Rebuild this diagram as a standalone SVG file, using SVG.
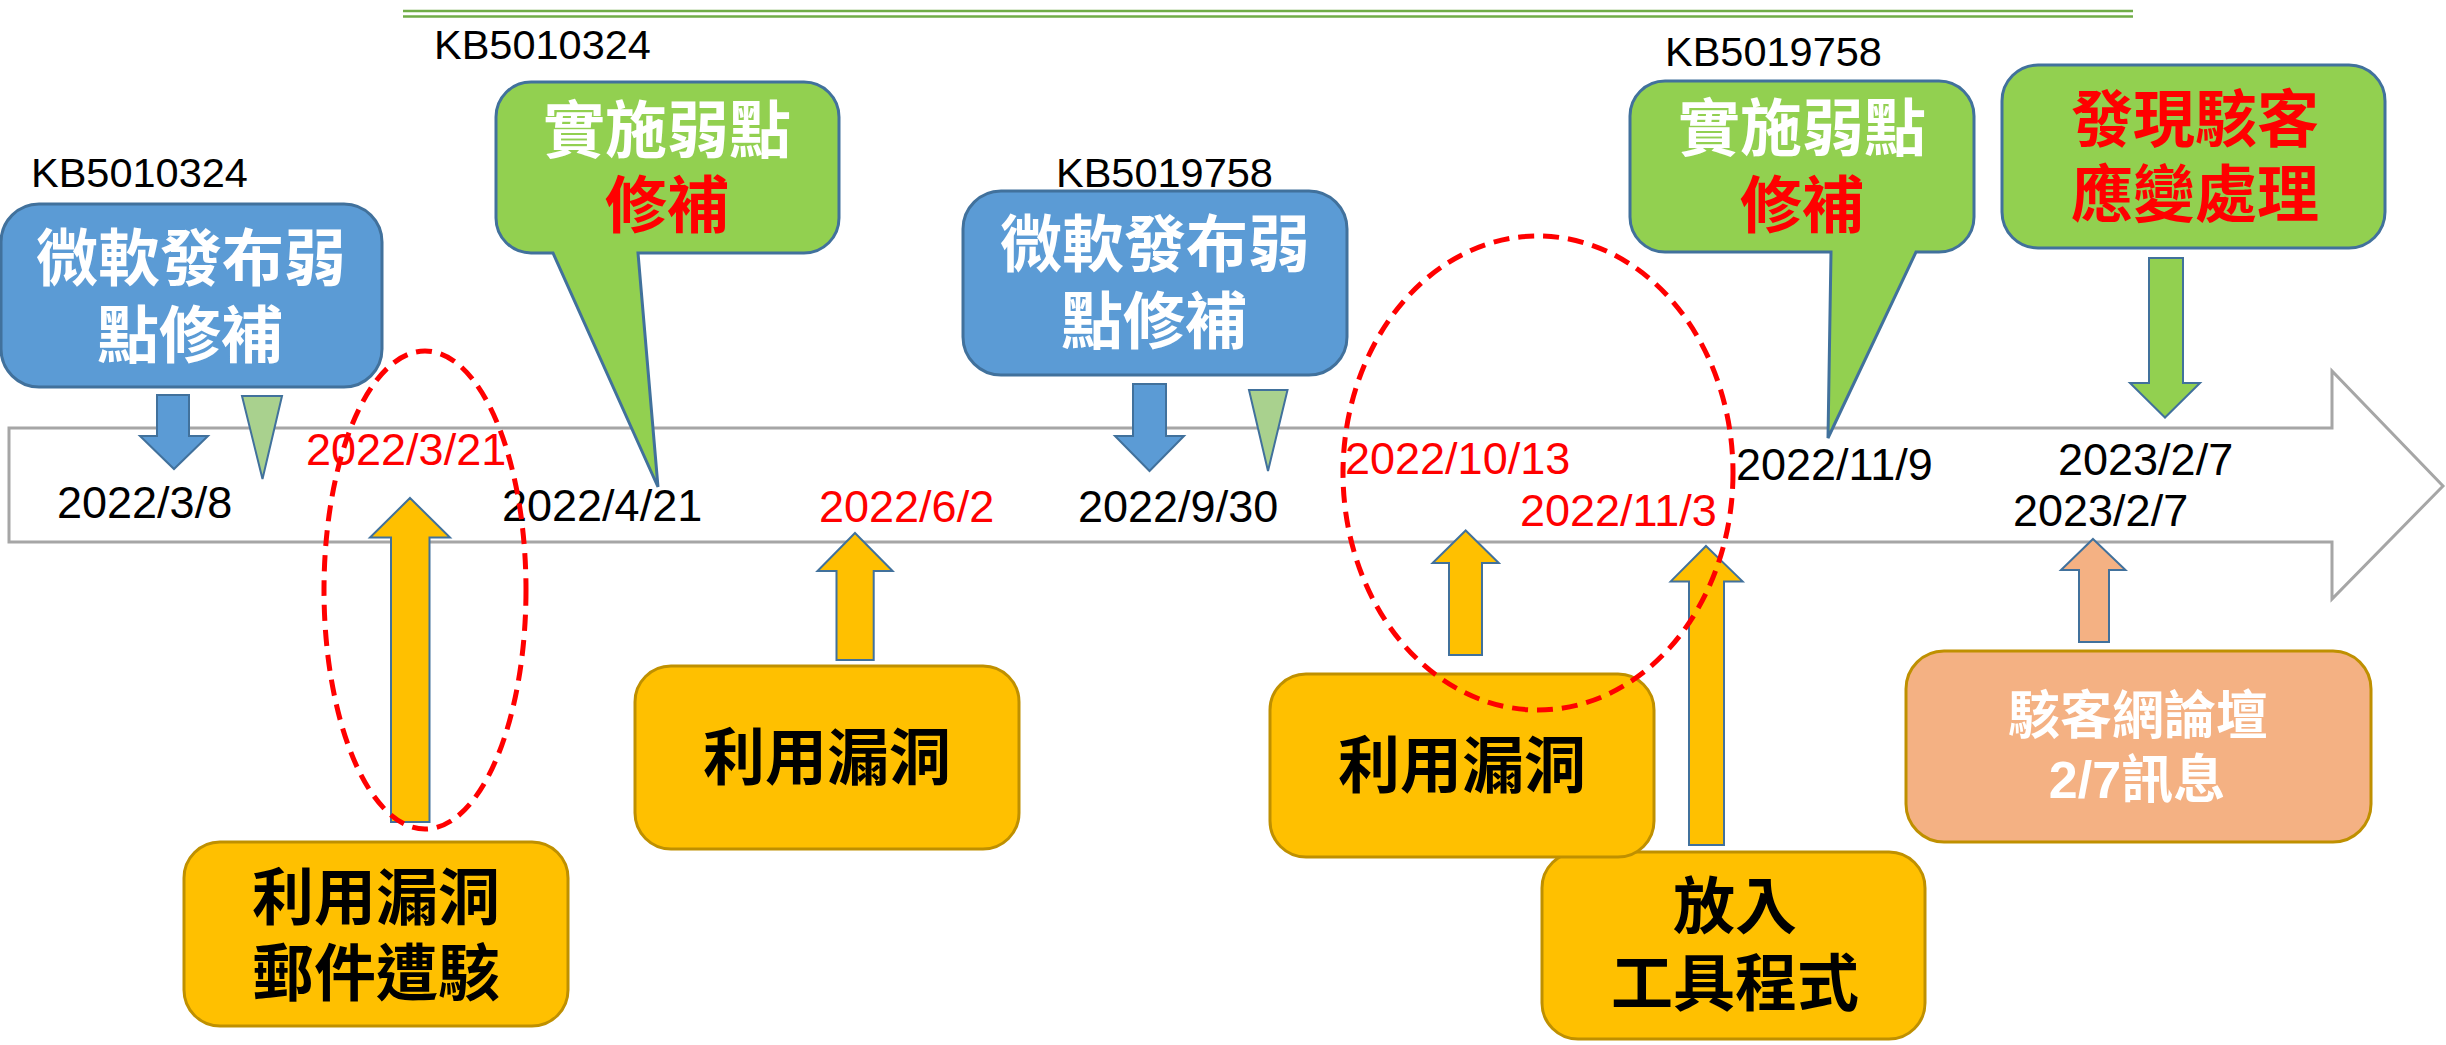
<svg xmlns="http://www.w3.org/2000/svg" width="2446" height="1045" viewBox="0 0 2446 1045">
<style>
.lat{font-family:"Liberation Sans",Arial,sans-serif;font-size:45px;fill:#000}
.kb{font-family:"Liberation Sans",Arial,sans-serif;font-size:41.5px;fill:#000}
.red{fill:#FF0000}
.cjk{font-family:"Liberation Sans","Noto Sans CJK TC","Noto Sans CJK SC",sans-serif;font-weight:bold;font-size:62px;text-anchor:middle}
.w{fill:#FFFFFF}
.k{fill:#000000}
.r{fill:#FF0000}
.blue{fill:#5B9BD5;stroke:#41719C;stroke-width:3}
.green{fill:#92D050;stroke:#41719C;stroke-width:3}
.yel{fill:#FFC000;stroke:#BF9000;stroke-width:3}
.org{fill:#F4B183;stroke:#BF9000;stroke-width:3}
.ab{fill:#5B9BD5;stroke:#41719C;stroke-width:2}
.ay{fill:#FFC000;stroke:#41719C;stroke-width:2}
.ag{fill:#92D050;stroke:#41719C;stroke-width:2}
.alg{fill:#A9D18E;stroke:#41719C;stroke-width:2}
.ao{fill:#F4B183;stroke:#41719C;stroke-width:2}
.ell{fill:none;stroke:#FF0000;stroke-width:5;stroke-dasharray:16 9}
</style>

<g id="timeline">
<polygon points="9,428 2332,428 2332,371 2443,486 2332,599 2332,542 9,542" fill="#FFFFFF" stroke="#A6A6A6" stroke-width="3"/>
</g>

<g id="top-rule">
<line x1="403" y1="11" x2="2133" y2="11" stroke="#70AD47" stroke-width="2.5"/>
<line x1="403" y1="16.5" x2="2133" y2="16.5" stroke="#70AD47" stroke-width="2.5"/>
</g>

<g id="kb-labels">
<text class="kb" x="31" y="187">KB5010324</text>
<text class="kb" x="434" y="59">KB5010324</text>
<text class="kb" x="1056" y="187">KB5019758</text>
<text class="kb" x="1665" y="66">KB5019758</text>
</g>

<g id="release1">
<rect class="blue" x="1" y="204" width="381" height="183" rx="38" ry="38"/>
<text class="cjk w"><tspan x="191" y="281">微軟發布弱</tspan><tspan x="190" y="358">點修補</tspan></text>
</g>

<g id="patch1">
<path class="green" d="M531,82 H804 A35,35 0 0 1 839,117 V218 A35,35 0 0 1 804,253 H638 L658,487 L553,253 H531 A35,35 0 0 1 496,218 V117 A35,35 0 0 1 531,82 Z"/>
<text class="cjk w"><tspan x="667" y="153">實施弱點</tspan><tspan class="r" x="667" y="228">修補</tspan></text>
</g>

<g id="release2">
<rect class="blue" x="963" y="191" width="384" height="184" rx="38" ry="38"/>
<text class="cjk w"><tspan x="1155" y="267">微軟發布弱</tspan><tspan x="1154" y="344">點修補</tspan></text>
</g>

<g id="patch2">
<path class="green" d="M1665,81 H1939 A35,35 0 0 1 1974,116 V217 A35,35 0 0 1 1939,252 H1916 L1828,438 L1831,252 H1665 A35,35 0 0 1 1630,217 V116 A35,35 0 0 1 1665,81 Z"/>
<text class="cjk w"><tspan x="1802" y="150.5">實施弱點</tspan><tspan class="r" x="1802" y="227.5">修補</tspan></text>
</g>

<g id="response">
<rect class="green" x="2002" y="65" width="383" height="183" rx="36" ry="36"/>
<text class="cjk r"><tspan x="2195" y="141.5">發現駭客</tspan><tspan x="2195" y="217">應變處理</tspan></text>
</g>

<g id="exploit1">
<rect class="yel" x="184" y="842" width="384" height="184" rx="36" ry="36"/>
<text class="cjk k"><tspan x="376" y="919.5">利用漏洞</tspan><tspan x="376" y="995.5">郵件遭駭</tspan></text>
</g>

<g id="exploit2">
<rect class="yel" x="635" y="666" width="384" height="183" rx="36" ry="36"/>
<text class="cjk k" x="827" y="780">利用漏洞</text>
</g>

<g id="tools">
<rect class="yel" x="1542" y="852" width="383" height="187" rx="36" ry="36"/>
<text class="cjk k"><tspan x="1735" y="929">放入</tspan><tspan x="1735" y="1005.5">工具程式</tspan></text>
</g>

<g id="exploit3">
<rect class="yel" x="1270" y="674" width="384" height="183" rx="36" ry="36"/>
<text class="cjk k" x="1462" y="788">利用漏洞</text>
</g>

<g id="forum">
<rect class="org" x="1906" y="651" width="465" height="191" rx="38" ry="38"/>
<text class="cjk w" style="font-size:52px"><tspan x="2138" y="734">駭客網論壇</tspan><tspan x="2137" y="798">2/7訊息</tspan></text>
</g>

<g id="connectors">
<polygon class="ab" points="157,395 189,395 189,436 208,436 174,469 140,436 157,436"/>
<polygon class="alg" points="242,396 282,396 262.5,479"/>
<polygon class="ab" points="1133,384 1166,384 1166,436 1184,436 1149.5,471 1115,436 1133,436"/>
<polygon class="alg" points="1249,390 1287.5,390 1268,471"/>
<polygon class="ag" points="2149,258 2183,258 2183,383 2200,383 2165,417.5 2130,383 2149,383"/>
<polygon class="ay" points="410,498 450,537.5 429.5,537.5 429.5,822 391,822 391,537.5 370,537.5"/>
<polygon class="ay" points="855,533 892.6,571 873.7,571 873.7,660 836.5,660 836.5,571 817.5,571"/>
<polygon class="ay" points="1465.7,530.5 1498.8,563 1482,563 1482,655 1449,655 1449,563 1432.6,563"/>
<polygon class="ay" points="1706,546 1742.6,581.4 1724,581.4 1724,845 1689,845 1689,581.4 1670.7,581.4"/>
<polygon class="ao" points="2093,539 2125.5,570 2109,570 2109,642 2079,642 2079,570 2061,570"/>
</g>

<g id="dates">
<text class="lat" x="57" y="518">2022/3/8</text>
<text class="lat red" x="306" y="465">2022/3/21</text>
<text class="lat" x="502" y="521">2022/4/21</text>
<text class="lat red" x="819" y="522">2022/6/2</text>
<text class="lat" x="1078" y="522">2022/9/30</text>
<text class="lat red" x="1345" y="474">2022/10/13</text>
<text class="lat red" x="1520" y="526">2022/11/3</text>
<text class="lat" x="1736" y="480">2022/11/9</text>
<text class="lat" x="2058" y="475">2023/2/7</text>
<text class="lat" x="2013" y="526">2023/2/7</text>
</g>

<g id="highlights">
<ellipse class="ell" cx="425" cy="590" rx="101" ry="239"/>
<ellipse class="ell" cx="1538" cy="473" rx="195" ry="237"/>
</g>
</svg>
